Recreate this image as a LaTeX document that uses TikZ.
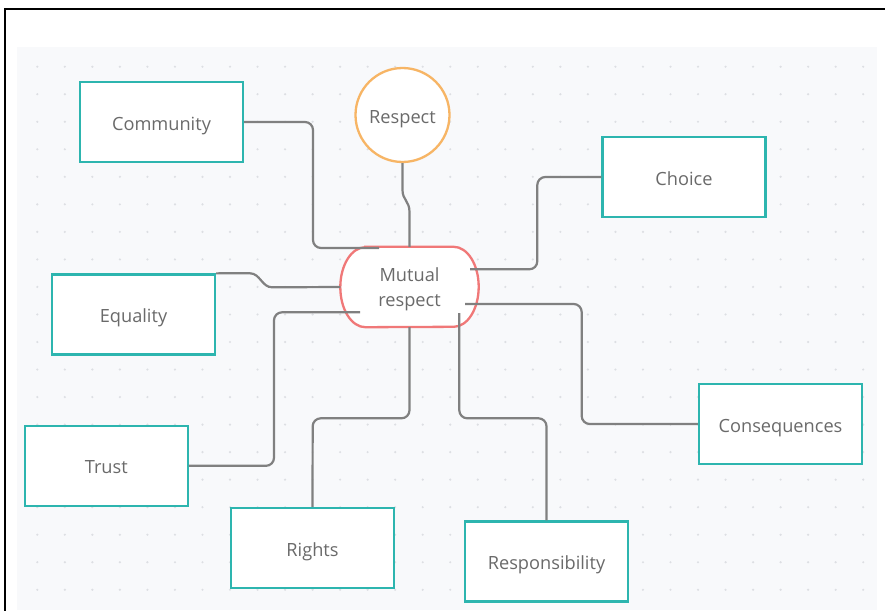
\documentclass[tikz,border=0pt]{standalone}
\usepackage{fontspec}
\setmainfont{Open Sans}
\usetikzlibrary{calc}
\definecolor{teal1}{HTML}{2DB5AF}
\definecolor{orange1}{HTML}{F7B565}
\definecolor{red1}{HTML}{F07878}
\definecolor{line1}{HTML}{808080}
\definecolor{txt1}{HTML}{6A6A6A}
\definecolor{panel1}{HTML}{F8F9FB}
\definecolor{dot1}{HTML}{DDDFE3}
\pgfdeclarelayer{bg}
\pgfdeclarelayer{mid}
\pgfsetlayers{bg,mid,main}
\tikzset{
  lbl/.style={text=txt1, font=\fontsize{18.2}{24.5}\selectfont, text height=18pt, text depth=2pt},
  box/.style={lbl, draw=teal1, line width=2.3pt, fill=white, minimum width=163pt, minimum height=80pt, inner sep=0pt},
  circ/.style={lbl, circle, draw=orange1, line width=2.3pt, fill=white, minimum size=94pt, inner sep=0pt},
  hub/.style={draw=none, minimum width=138pt, minimum height=80pt, inner sep=0pt, text=txt1, font=\fontsize{18.2}{24.5}\selectfont, text height=42pt, text depth=4pt},
  conn/.style={draw=line1, line width=2.2pt, rounded corners=8pt},
  wire/.style={draw=line1, line width=2.2pt},
}
\begin{document}
\begin{tikzpicture}[x=1pt,y=-1pt]
\useasboundingbox (0,0) rectangle (885,610);
\begin{pgfonlayer}{bg}
  \fill[panel1] (17,47) rectangle (877,610);
  \foreach \i in {0,...,30}{
    \foreach \j in {0,...,19}{
      \fill[dot1] (37.3+27.53*\i, 66.7+27.53*\j) circle[radius=1.2pt];
    }
  }
  \draw[black, line width=2pt] (885,9) -- (5,9) -- (5,612);
\end{pgfonlayer}

\node[box] (comm) at (161.5,122) {Community};
\node[box] (choice) at (684,177) {Choice};
\node[box] (eq) at (133.5,314.5) {Equality};
\node[box] (trust) at (106.3,465.8) {Trust};
\node[box] (rights) at (312.5,548) {Rights};
\node[box] (respon) at (546.5,561.5) {Responsibility};
\node[box] (cons) at (780.5,424) {Consequences};
\node[circ] (resp) at (402.5,115) {Respect};
\node[hub] (mut) at (409.5,287) {\begin{tabular}[b]{@{}c@{}}Mutual\\respect\end{tabular}};

\begin{pgfonlayer}{mid}
  \draw[red1, line width=2.3pt, fill=white]
    ($(mut.north west)+(25,0)$) -- ($(mut.north east)+(-25,0)$)
    arc[start angle=90, end angle=-90, x radius=25pt, y radius=40pt]
    -- ($(mut.south west)+(25,0)$)
    arc[start angle=270, end angle=90, x radius=25pt, y radius=40pt] -- cycle;
\end{pgfonlayer}

\draw[conn] (comm.east) -- (313,122) -- (313,248) -- ($(mut.center)+(-30.5,-39)$);
\draw[wire] (resp.south) -- (402.5,190) .. controls (402.5,200) and (409.5,201) .. (409.5,212) -- (mut.north);
\draw[conn] (choice.west) -- (537.3,177) -- (537.3,269.3) -- ($(mut.center)+(60.5,-17.7)$);
\draw[wire] (eq.north east) -- (250,273.3) .. controls (260,273.3) and (262,287.3) .. (272,287.3) -- (mut.west);
\draw[conn] (trust.east) -- (274,465.8) -- (274,312.3) -- ($(mut.center)+(-49.5,25.3)$);
\draw[conn] (rights.north) -- (312.7,418.3) -- (409.5,418.3) -- (mut.south);
\draw[conn] (respon.north) -- (546.5,418.3) -- (459.3,418.3) -- ($(mut.center)+(49.8,26)$);
\draw[conn] (cons.west) -- (581.7,424) -- (581.7,304) -- ($(mut.center)+(55.5,17)$);
\end{tikzpicture}
\end{document}
